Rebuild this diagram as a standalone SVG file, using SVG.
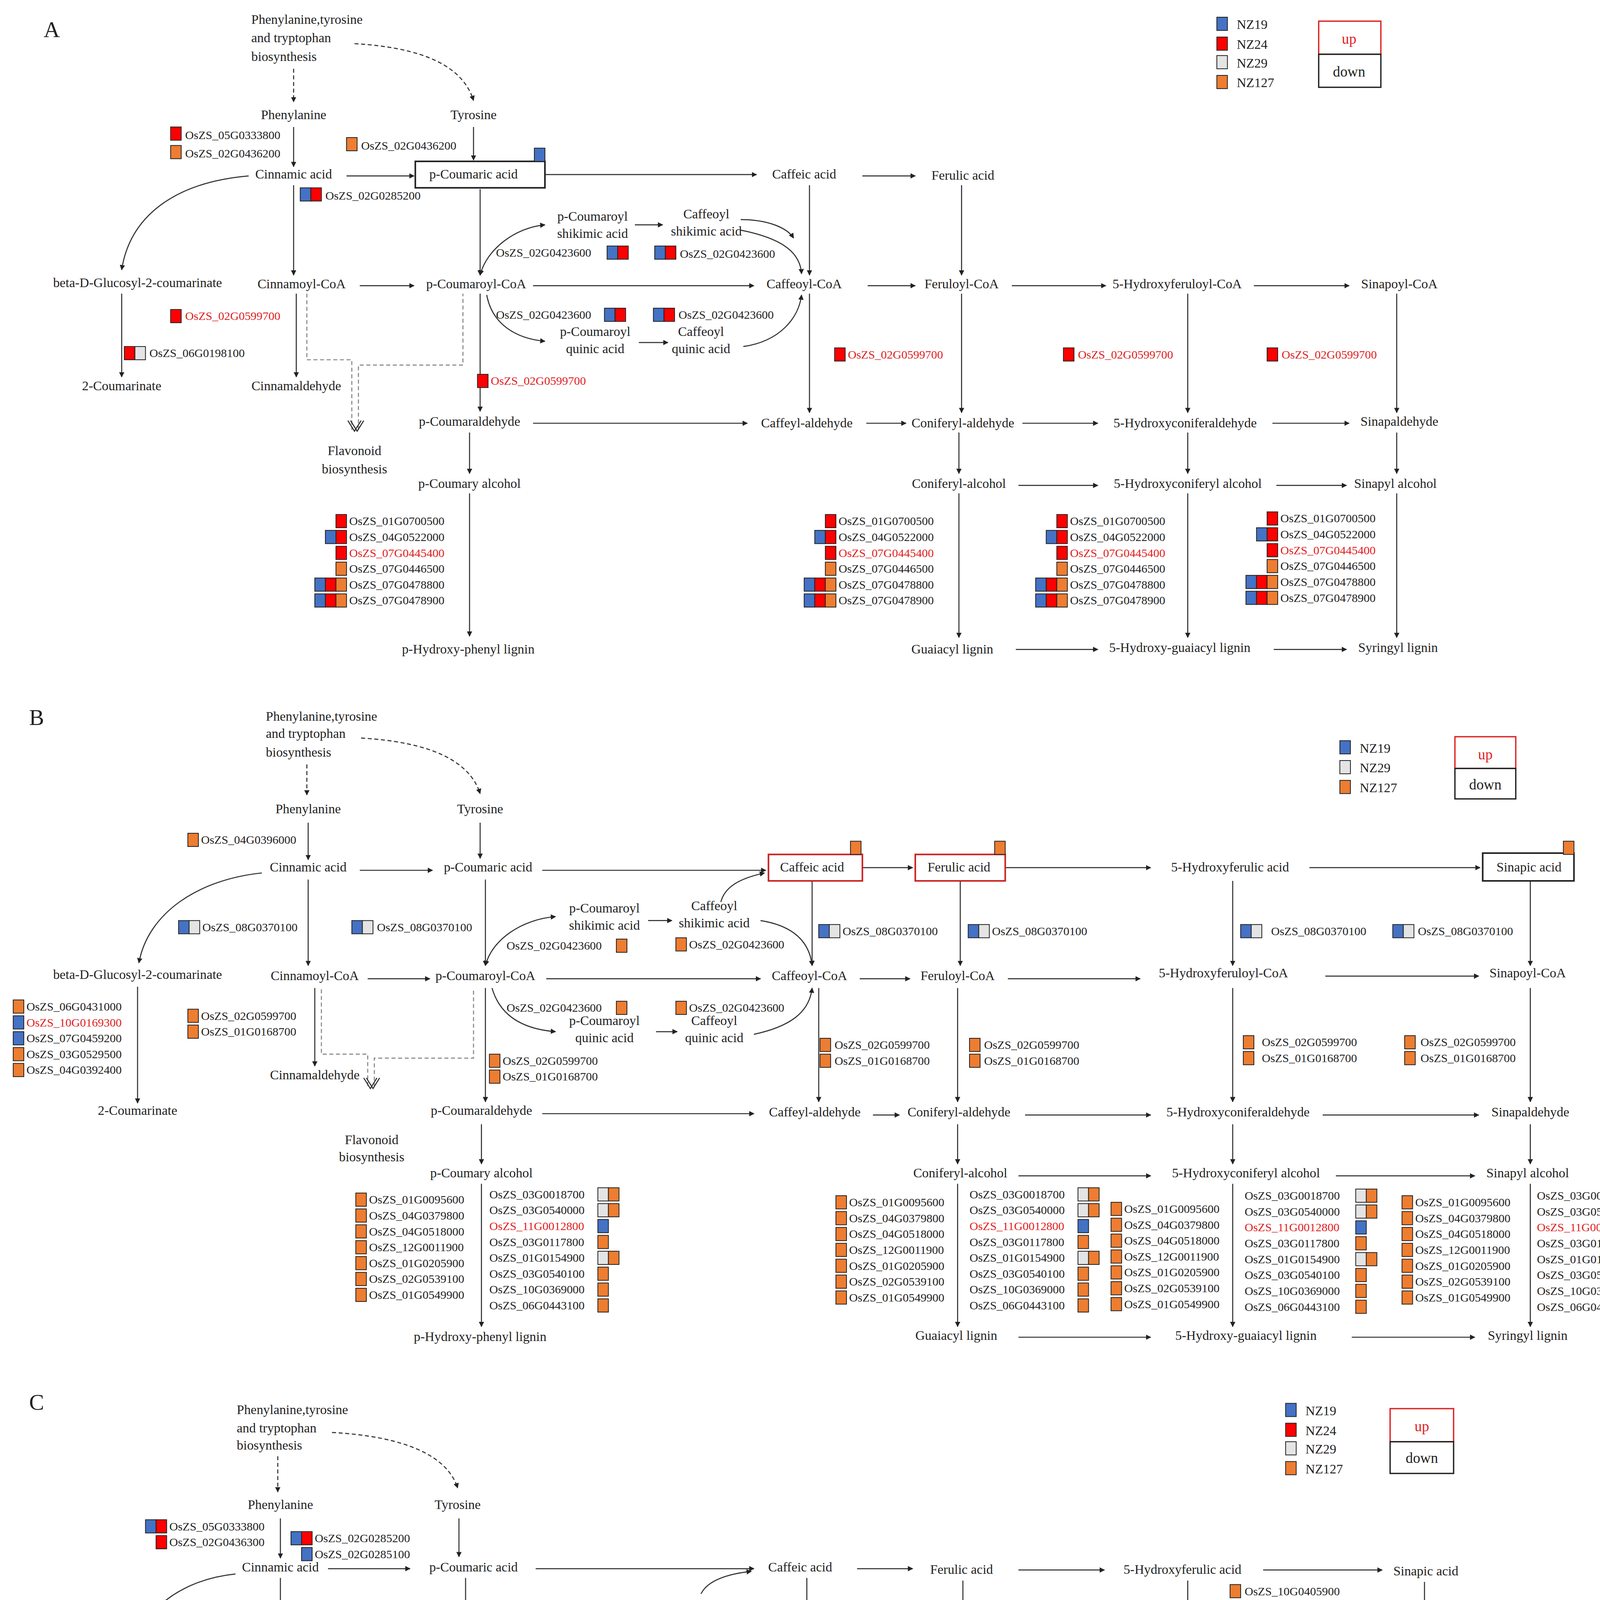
<svg xmlns="http://www.w3.org/2000/svg" xmlns:xlink="http://www.w3.org/1999/xlink" width="4334" height="5328" viewBox="0 0 4334 5328">
<style>
text{font-family:"Liberation Serif","Times New Roman",serif;fill:#222}
.n{font-size:10px;text-anchor:middle}
.g{font-size:9px}
.r{fill:#e02020}
.p{font-size:17px}
.l{fill:none;stroke:#333;stroke-width:0.8}
.a{fill:none;stroke:#333;stroke-width:0.8;marker-end:url(#ah)}
.d{fill:none;stroke:#333;stroke-width:0.8;stroke-dasharray:3 2;marker-end:url(#ah)}
.f{fill:none;stroke:#888;stroke-width:0.8;stroke-dasharray:3 2}
.bx{fill:none;stroke:#222;stroke-width:1.2}
</style>
<defs>
<marker id="ah" viewBox="0 0 10 10" refX="9" refY="5" markerWidth="5" markerHeight="5" orient="auto"><path d="M0,0L10,5L0,10z" fill="#222"/></marker>
<marker id="ah2" viewBox="0 0 10 10" refX="1" refY="5" markerWidth="5" markerHeight="5" orient="auto"><path d="M10,0L0,5L10,10z" fill="#222"/></marker>
<rect id="B" width="8" height="10" fill="#4472C4" stroke="#222" stroke-width="0.6"/>
<rect id="R" width="8" height="10" fill="#FF0000" stroke="#222" stroke-width="0.6"/>
<rect id="G" width="8" height="10" fill="#E4E4E4" stroke="#222" stroke-width="0.6"/>
<rect id="O" width="8" height="10" fill="#ED7D31" stroke="#222" stroke-width="0.6"/>
</defs>
<rect width="4334" height="5328" fill="#fff"/>
<g transform="scale(3.386)">

<!-- ================= PANEL A ================= -->
<g id="panelA">
<text x="33" y="28" class="p">A</text>
<g id="a-legend">
<use href="#B" x="920" y="13"/><text x="935" y="22" class="g" style="font-size:10px">NZ19</text>
<use href="#R" x="920" y="28"/><text x="935" y="37" class="g" style="font-size:10px">NZ24</text>
<use href="#G" x="920" y="42"/><text x="935" y="51" class="g" style="font-size:10px">NZ29</text>
<use href="#O" x="920" y="57"/><text x="935" y="66" class="g" style="font-size:10px">NZ127</text>
<rect x="997" y="16" width="47" height="25" fill="none" stroke="#d22" stroke-width="1"/>
<rect x="997" y="41" width="47" height="25" fill="none" stroke="#222" stroke-width="1"/>
<text x="1020" y="33" class="n r" style="font-size:11px">up</text>
<text x="1020" y="58" class="n" style="font-size:11px">down</text>
</g>
<g id="a-connectors">
<path class="d" d="M222,52V77"/>
<path class="d" d="M268,33C320,36 350,50 358,76"/>
<path class="a" d="M222,96V126"/>
<path class="a" d="M358,96V121"/>
<path class="a" d="M262,133H313"/>
<path class="a" d="M412,132H572"/>
<path class="a" d="M652,133H692"/>
<path class="a" d="M188,133C130,138 98,165 92,204"/>
<path class="a" d="M222,140V208"/>
<path class="a" d="M363,143V208"/>
<path class="a" d="M272,216H313"/>
<path class="l" d="M363,208C368,188 390,172 412,170" marker-end="url(#ah)" marker-start="url(#ah2)"/>
<path class="a" d="M480,170H501"/>
<path class="a" d="M560,174C590,180 605,190 606,207"/>
<path class="a" d="M560,166C580,166 595,172 600,180"/>
<path class="a" d="M612,140V208"/>
<path class="a" d="M727,140V208"/>
<path class="a" d="M403,216H570"/>
<path class="a" d="M656,216H692"/>
<path class="a" d="M765,216H836"/>
<path class="a" d="M948,216H1020"/>
<path class="a" d="M368,223C372,245 390,256 412,258"/>
<path class="a" d="M483,259H505"/>
<path class="a" d="M562,262C590,258 604,240 606,223"/>
<path class="a" d="M92,222V285"/>
<path class="a" d="M224,222V285"/>
<path class="f" d="M232,222V272H266V325M271,325V276H350V222"/>
<path class="l" d="M263,318L268,326L273,318M265,318L270,326L275,318" stroke="#888"/>
<path class="a" d="M363,222V311"/>
<path class="a" d="M612,222V312"/>
<path class="a" d="M727,222V312"/>
<path class="a" d="M898,222V312"/>
<path class="a" d="M1056,222V312"/>
<path class="a" d="M403,320H565"/>
<path class="a" d="M655,320H685"/>
<path class="a" d="M773,320H830"/>
<path class="a" d="M962,320H1020"/>
<path class="a" d="M355,327V358"/>
<path class="a" d="M725,327V358"/>
<path class="a" d="M898,327V358"/>
<path class="a" d="M1056,327V358"/>
<path class="a" d="M770,367H830"/>
<path class="a" d="M965,367H1018"/>
<path class="a" d="M355,373V481"/>
<path class="a" d="M725,373V482"/>
<path class="a" d="M898,373V482"/>
<path class="a" d="M1056,373V482"/>
<path class="a" d="M768,491H830"/>
<path class="a" d="M963,491H1018"/>
</g>
<g id="a-nodes">
<text x="190" y="18" class="g" style="font-size:10px">Phenylanine,tyrosine</text>
<text x="190" y="32" class="g" style="font-size:10px">and tryptophan</text>
<text x="190" y="46" class="g" style="font-size:10px">biosynthesis</text>
<text x="222" y="90" class="n">Phenylanine</text>
<text x="358" y="90" class="n">Tyrosine</text>
<text x="222" y="135" class="n">Cinnamic acid</text>
<rect x="314" y="122" width="98" height="20" class="bx"/><use href="#B" x="404" y="112"/>
<text x="358" y="135" class="n">p-Coumaric acid</text>
<text x="608" y="135" class="n">Caffeic acid</text>
<text x="728" y="136" class="n">Ferulic acid</text>
<text x="448" y="167" class="n">p-Coumaroyl</text><text x="448" y="180" class="n">shikimic acid</text>
<text x="534" y="165" class="n">Caffeoyl</text><text x="534" y="178" class="n">shikimic acid</text>
<text x="104" y="217" class="n">beta-D-Glucosyl-2-coumarinate</text>
<text x="228" y="218" class="n">Cinnamoyl-CoA</text>
<text x="360" y="218" class="n">p-Coumaroyl-CoA</text>
<text x="608" y="218" class="n">Caffeoyl-CoA</text>
<text x="727" y="218" class="n">Feruloyl-CoA</text>
<text x="890" y="218" class="n">5-Hydroxyferuloyl-CoA</text>
<text x="1058" y="218" class="n">Sinapoyl-CoA</text>
<text x="450" y="254" class="n">p-Coumaroyl</text><text x="450" y="267" class="n">quinic acid</text>
<text x="530" y="254" class="n">Caffeoyl</text><text x="530" y="267" class="n">quinic acid</text>
<text x="92" y="295" class="n">2-Coumarinate</text>
<text x="224" y="295" class="n">Cinnamaldehyde</text>
<text x="268" y="344" class="n">Flavonoid</text><text x="268" y="358" class="n">biosynthesis</text>
<text x="355" y="322" class="n">p-Coumaraldehyde</text>
<text x="610" y="323" class="n">Caffeyl-aldehyde</text>
<text x="728" y="323" class="n">Coniferyl-aldehyde</text>
<text x="896" y="323" class="n">5-Hydroxyconiferaldehyde</text>
<text x="1058" y="322" class="n">Sinapaldehyde</text>
<text x="355" y="369" class="n">p-Coumary alcohol</text>
<text x="725" y="369" class="n">Coniferyl-alcohol</text>
<text x="898" y="369" class="n">5-Hydroxyconiferyl alcohol</text>
<text x="1055" y="369" class="n">Sinapyl alcohol</text>
<text x="354" y="494" class="n">p-Hydroxy-phenyl lignin</text>
<text x="720" y="494" class="n">Guaiacyl lignin</text>
<text x="892" y="493" class="n">5-Hydroxy-guaiacyl lignin</text>
<text x="1057" y="493" class="n">Syringyl lignin</text>
</g>
<g id="a-genes">
<use href="#R" x="129" y="96"/><text x="140" y="105" class="g">OsZS_05G0333800</text>
<use href="#O" x="129" y="110"/><text x="140" y="119" class="g">OsZS_02G0436200</text>
<use href="#O" x="262" y="104"/><text x="273" y="113" class="g">OsZS_02G0436200</text>
<use href="#B" x="227" y="142"/><use href="#R" x="235" y="142"/><text x="246" y="151" class="g">OsZS_02G0285200</text>
<text x="375" y="194" class="g">OsZS_02G0423600</text><use href="#B" x="459" y="186"/><use href="#R" x="467" y="186"/>
<use href="#B" x="495" y="186"/><use href="#R" x="503" y="186"/><text x="514" y="195" class="g">OsZS_02G0423600</text>
<text x="375" y="241" class="g">OsZS_02G0423600</text><use href="#B" x="457" y="233"/><use href="#R" x="465" y="233"/>
<use href="#B" x="494" y="233"/><use href="#R" x="502" y="233"/><text x="513" y="241" class="g">OsZS_02G0423600</text>
<use href="#R" x="129" y="234"/><text x="140" y="242" class="g r">OsZS_02G0599700</text>
<use href="#R" x="94" y="262"/><use href="#G" x="102" y="262"/><text x="113" y="270" class="g">OsZS_06G0198100</text>
<use href="#R" x="361" y="283"/><text x="371" y="291" class="g r">OsZS_02G0599700</text>
<use href="#R" x="631" y="263"/><text x="641" y="271" class="g r">OsZS_02G0599700</text>
<use href="#R" x="804" y="263"/><text x="815" y="271" class="g r">OsZS_02G0599700</text>
<use href="#R" x="958" y="263"/><text x="969" y="271" class="g r">OsZS_02G0599700</text>
</g>
<g id="a-lists">
<g transform="translate(264,0)">
<use href="#R" x="-10" y="389"/><text x="0" y="397" class="g">OsZS_01G0700500</text>
<use href="#B" x="-18" y="401"/><use href="#R" x="-10" y="401"/><text x="0" y="409" class="g">OsZS_04G0522000</text>
<use href="#R" x="-10" y="413"/><text x="0" y="421" class="g r">OsZS_07G0445400</text>
<use href="#O" x="-10" y="425"/><text x="0" y="433" class="g">OsZS_07G0446500</text>
<use href="#B" x="-26" y="437"/><use href="#R" x="-18" y="437"/><use href="#O" x="-10" y="437"/><text x="0" y="445" class="g">OsZS_07G0478800</text>
<use href="#B" x="-26" y="449"/><use href="#R" x="-18" y="449"/><use href="#O" x="-10" y="449"/><text x="0" y="457" class="g">OsZS_07G0478900</text>
</g>
<g transform="translate(634,0)">
<use href="#R" x="-10" y="389"/><text x="0" y="397" class="g">OsZS_01G0700500</text>
<use href="#B" x="-18" y="401"/><use href="#R" x="-10" y="401"/><text x="0" y="409" class="g">OsZS_04G0522000</text>
<use href="#R" x="-10" y="413"/><text x="0" y="421" class="g r">OsZS_07G0445400</text>
<use href="#O" x="-10" y="425"/><text x="0" y="433" class="g">OsZS_07G0446500</text>
<use href="#B" x="-26" y="437"/><use href="#R" x="-18" y="437"/><use href="#O" x="-10" y="437"/><text x="0" y="445" class="g">OsZS_07G0478800</text>
<use href="#B" x="-26" y="449"/><use href="#R" x="-18" y="449"/><use href="#O" x="-10" y="449"/><text x="0" y="457" class="g">OsZS_07G0478900</text>
</g>
<g transform="translate(809,0)">
<use href="#R" x="-10" y="389"/><text x="0" y="397" class="g">OsZS_01G0700500</text>
<use href="#B" x="-18" y="401"/><use href="#R" x="-10" y="401"/><text x="0" y="409" class="g">OsZS_04G0522000</text>
<use href="#R" x="-10" y="413"/><text x="0" y="421" class="g r">OsZS_07G0445400</text>
<use href="#O" x="-10" y="425"/><text x="0" y="433" class="g">OsZS_07G0446500</text>
<use href="#B" x="-26" y="437"/><use href="#R" x="-18" y="437"/><use href="#O" x="-10" y="437"/><text x="0" y="445" class="g">OsZS_07G0478800</text>
<use href="#B" x="-26" y="449"/><use href="#R" x="-18" y="449"/><use href="#O" x="-10" y="449"/><text x="0" y="457" class="g">OsZS_07G0478900</text>
</g>
<g transform="translate(968,0)">
<use href="#R" x="-10" y="387"/><text x="0" y="395" class="g">OsZS_01G0700500</text>
<use href="#B" x="-18" y="399"/><use href="#R" x="-10" y="399"/><text x="0" y="407" class="g">OsZS_04G0522000</text>
<use href="#R" x="-10" y="411"/><text x="0" y="419" class="g r">OsZS_07G0445400</text>
<use href="#O" x="-10" y="423"/><text x="0" y="431" class="g">OsZS_07G0446500</text>
<use href="#B" x="-26" y="435"/><use href="#R" x="-18" y="435"/><use href="#O" x="-10" y="435"/><text x="0" y="443" class="g">OsZS_07G0478800</text>
<use href="#B" x="-26" y="447"/><use href="#R" x="-18" y="447"/><use href="#O" x="-10" y="447"/><text x="0" y="455" class="g">OsZS_07G0478900</text>
</g>
</g>
</g>

<!-- ================= PANEL B ================= -->
<g id="panelB">
<text x="22" y="548" class="p">B</text>
<g id="b-legend">
<use href="#B" x="1013" y="560"/><text x="1028" y="569" class="g" style="font-size:10px">NZ19</text>
<use href="#G" x="1013" y="575"/><text x="1028" y="584" class="g" style="font-size:10px">NZ29</text>
<use href="#O" x="1013" y="590"/><text x="1028" y="599" class="g" style="font-size:10px">NZ127</text>
<rect x="1100" y="557" width="46" height="24" fill="none" stroke="#d22" stroke-width="1"/>
<rect x="1100" y="581" width="46" height="23" fill="none" stroke="#222" stroke-width="1"/>
<text x="1123" y="574" class="n r" style="font-size:11px">up</text>
<text x="1123" y="597" class="n" style="font-size:11px">down</text>
</g>
<g id="b-connectors">
<path class="d" d="M232,578V601"/>
<path class="d" d="M273,558C325,561 355,575 363,600"/>
<path class="a" d="M233,622V650"/>
<path class="a" d="M363,622V649"/>
<path class="a" d="M272,658H327"/>
<path class="a" d="M410,658H579"/>
<path class="a" d="M652,656H690"/>
<path class="a" d="M760,656H870"/>
<path class="a" d="M990,656H1119"/>
<path class="a" d="M198,660C150,665 112,690 105,728"/>
<path class="a" d="M233,665V730"/>
<path class="a" d="M367,665V730"/>
<path class="l" d="M367,730C372,710 395,695 420,693" marker-end="url(#ah)" marker-start="url(#ah2)"/>
<path class="a" d="M490,696H508"/>
<path class="a" d="M545,682C548,670 560,664 578,660"/>
<path class="a" d="M575,696C600,700 612,712 614,730"/>
<path class="a" d="M614,666V730"/>
<path class="a" d="M726,666V730"/>
<path class="a" d="M932,666V730"/>
<path class="a" d="M1157,666V730"/>
<path class="a" d="M278,740H325"/>
<path class="a" d="M413,740H575"/>
<path class="a" d="M650,740H688"/>
<path class="a" d="M762,740H862"/>
<path class="a" d="M1002,738H1118"/>
<path class="a" d="M372,747C378,768 395,778 420,780"/>
<path class="a" d="M496,780H512"/>
<path class="a" d="M570,782C598,776 612,765 614,747"/>
<path class="a" d="M104,746V834"/>
<path class="a" d="M238,747V806"/>
<path class="f" d="M243,748V797H278V822M283,822V800H358V748"/>
<path class="l" d="M275,815L280,823L285,815M277,815L282,823L287,815" stroke="#888"/>
<path class="a" d="M367,747V833"/>
<path class="a" d="M619,747V833"/>
<path class="a" d="M724,747V833"/>
<path class="a" d="M932,747V833"/>
<path class="a" d="M1157,747V833"/>
<path class="a" d="M410,842H570"/>
<path class="a" d="M660,843H680"/>
<path class="a" d="M775,843H870"/>
<path class="a" d="M1000,843H1118"/>
<path class="a" d="M364,850V880"/>
<path class="a" d="M724,850V880"/>
<path class="a" d="M932,850V880"/>
<path class="a" d="M1157,850V880"/>
<path class="a" d="M770,889H870"/>
<path class="a" d="M1010,889H1115"/>
<path class="a" d="M364,895V1003"/>
<path class="a" d="M724,895V1003"/>
<path class="a" d="M932,895V1003"/>
<path class="a" d="M1157,895V1003"/>
<path class="a" d="M770,1011H870"/>
<path class="a" d="M1022,1011H1115"/>
</g>
<g id="b-nodes">
<text x="201" y="545" class="g" style="font-size:10px">Phenylanine,tyrosine</text>
<text x="201" y="558" class="g" style="font-size:10px">and tryptophan</text>
<text x="201" y="572" class="g" style="font-size:10px">biosynthesis</text>
<text x="233" y="615" class="n">Phenylanine</text>
<text x="363" y="615" class="n">Tyrosine</text>
<text x="233" y="659" class="n">Cinnamic acid</text>
<text x="369" y="659" class="n">p-Coumaric acid</text>
<rect x="581" y="646" width="71" height="20" fill="none" stroke="#c22" stroke-width="1.2"/><use href="#O" x="643" y="636"/>
<text x="614" y="659" class="n">Caffeic acid</text>
<rect x="692" y="646" width="68" height="20" fill="none" stroke="#c22" stroke-width="1.2"/><use href="#O" x="752" y="636"/>
<text x="725" y="659" class="n">Ferulic acid</text>
<text x="930" y="659" class="n">5-Hydroxyferulic acid</text>
<rect x="1121" y="645" width="69" height="21" class="bx"/><use href="#O" x="1182" y="636"/>
<text x="1156" y="659" class="n">Sinapic acid</text>
<text x="457" y="690" class="n">p-Coumaroyl</text><text x="457" y="703" class="n">shikimic acid</text>
<text x="540" y="688" class="n">Caffeoyl</text><text x="540" y="701" class="n">shikimic acid</text>
<text x="104" y="740" class="n">beta-D-Glucosyl-2-coumarinate</text>
<text x="238" y="741" class="n">Cinnamoyl-CoA</text>
<text x="367" y="741" class="n">p-Coumaroyl-CoA</text>
<text x="612" y="741" class="n">Caffeoyl-CoA</text>
<text x="724" y="741" class="n">Feruloyl-CoA</text>
<text x="925" y="739" class="n">5-Hydroxyferuloyl-CoA</text>
<text x="1155" y="739" class="n">Sinapoyl-CoA</text>
<text x="457" y="775" class="n">p-Coumaroyl</text><text x="457" y="788" class="n">quinic acid</text>
<text x="540" y="775" class="n">Caffeoyl</text><text x="540" y="788" class="n">quinic acid</text>
<text x="104" y="843" class="n">2-Coumarinate</text>
<text x="238" y="816" class="n">Cinnamaldehyde</text>
<text x="281" y="865" class="n">Flavonoid</text><text x="281" y="878" class="n">biosynthesis</text>
<text x="364" y="843" class="n">p-Coumaraldehyde</text>
<text x="616" y="844" class="n">Caffeyl-aldehyde</text>
<text x="725" y="844" class="n">Coniferyl-aldehyde</text>
<text x="936" y="844" class="n">5-Hydroxyconiferaldehyde</text>
<text x="1157" y="844" class="n">Sinapaldehyde</text>
<text x="364" y="890" class="n">p-Coumary alcohol</text>
<text x="726" y="890" class="n">Coniferyl-alcohol</text>
<text x="942" y="890" class="n">5-Hydroxyconiferyl alcohol</text>
<text x="1155" y="890" class="n">Sinapyl alcohol</text>
<text x="363" y="1014" class="n">p-Hydroxy-phenyl lignin</text>
<text x="723" y="1013" class="n">Guaiacyl lignin</text>
<text x="942" y="1013" class="n">5-Hydroxy-guaiacyl lignin</text>
<text x="1155" y="1013" class="n">Syringyl lignin</text>
</g>
<g id="b-genes">
<use href="#O" x="142" y="630"/><text x="152" y="638" class="g">OsZS_04G0396000</text>
<use href="#B" x="135" y="696"/><use href="#G" x="143" y="696"/><text x="153" y="704" class="g">OsZS_08G0370100</text>
<use href="#B" x="266" y="696"/><use href="#G" x="274" y="696"/><text x="285" y="704" class="g">OsZS_08G0370100</text>
<text x="383" y="718" class="g">OsZS_02G0423600</text><use href="#O" x="466" y="710"/>
<use href="#O" x="511" y="709"/><text x="521" y="717" class="g">OsZS_02G0423600</text>
<use href="#B" x="619" y="699"/><use href="#G" x="627" y="699"/><text x="637" y="707" class="g">OsZS_08G0370100</text>
<use href="#B" x="732" y="699"/><use href="#G" x="740" y="699"/><text x="750" y="707" class="g">OsZS_08G0370100</text>
<use href="#B" x="938" y="699"/><use href="#G" x="946" y="699"/><text x="961" y="707" class="g">OsZS_08G0370100</text>
<use href="#B" x="1053" y="699"/><use href="#G" x="1061" y="699"/><text x="1072" y="707" class="g">OsZS_08G0370100</text>
<use href="#O" x="10" y="756"/><text x="20" y="764" class="g">OsZS_06G0431000</text>
<use href="#B" x="10" y="768"/><text x="20" y="776" class="g r">OsZS_10G0169300</text>
<use href="#B" x="10" y="780"/><text x="20" y="788" class="g">OsZS_07G0459200</text>
<use href="#O" x="10" y="792"/><text x="20" y="800" class="g">OsZS_03G0529500</text>
<use href="#O" x="10" y="804"/><text x="20" y="812" class="g">OsZS_04G0392400</text>
<use href="#O" x="142" y="763"/><text x="152" y="771" class="g">OsZS_02G0599700</text>
<use href="#O" x="142" y="775"/><text x="152" y="783" class="g">OsZS_01G0168700</text>
<text x="383" y="765" class="g">OsZS_02G0423600</text><use href="#O" x="466" y="757"/>
<use href="#O" x="511" y="757"/><text x="521" y="765" class="g">OsZS_02G0423600</text>
<use href="#O" x="370" y="797"/><text x="380" y="805" class="g">OsZS_02G0599700</text>
<use href="#O" x="370" y="809"/><text x="380" y="817" class="g">OsZS_01G0168700</text>
<use href="#O" x="620" y="785"/><text x="631" y="793" class="g">OsZS_02G0599700</text>
<use href="#O" x="620" y="797"/><text x="631" y="805" class="g">OsZS_01G0168700</text>
<use href="#O" x="733" y="785"/><text x="744" y="793" class="g">OsZS_02G0599700</text>
<use href="#O" x="733" y="797"/><text x="744" y="805" class="g">OsZS_01G0168700</text>
<use href="#O" x="940" y="783"/><text x="954" y="791" class="g">OsZS_02G0599700</text>
<use href="#O" x="940" y="795"/><text x="954" y="803" class="g">OsZS_01G0168700</text>
<use href="#O" x="1062" y="783"/><text x="1074" y="791" class="g">OsZS_02G0599700</text>
<use href="#O" x="1062" y="795"/><text x="1074" y="803" class="g">OsZS_01G0168700</text>
</g>
<g id="b-lists">
<g transform="translate(279,910)">
<use href="#O" x="-10" y="-8"/><text x="0" y="0" class="g">OsZS_01G0095600</text>
<use href="#O" x="-10" y="4"/><text x="0" y="12" class="g">OsZS_04G0379800</text>
<use href="#O" x="-10" y="16"/><text x="0" y="24" class="g">OsZS_04G0518000</text>
<use href="#O" x="-10" y="28"/><text x="0" y="36" class="g">OsZS_12G0011900</text>
<use href="#O" x="-10" y="40"/><text x="0" y="48" class="g">OsZS_01G0205900</text>
<use href="#O" x="-10" y="52"/><text x="0" y="60" class="g">OsZS_02G0539100</text>
<use href="#O" x="-10" y="64"/><text x="0" y="72" class="g">OsZS_01G0549900</text>
</g>
<g transform="translate(370,906)">
<text x="0" y="0" class="g">OsZS_03G0018700</text><use href="#G" x="82" y="-8"/><use href="#O" x="90" y="-8"/>
<text x="0" y="12" class="g">OsZS_03G0540000</text><use href="#G" x="82" y="4"/><use href="#O" x="90" y="4"/>
<text x="0" y="24" class="g r">OsZS_11G0012800</text><use href="#B" x="82" y="16"/>
<text x="0" y="36" class="g">OsZS_03G0117800</text><use href="#O" x="82" y="28"/>
<text x="0" y="48" class="g">OsZS_01G0154900</text><use href="#G" x="82" y="40"/><use href="#O" x="90" y="40"/>
<text x="0" y="60" class="g">OsZS_03G0540100</text><use href="#O" x="82" y="52"/>
<text x="0" y="72" class="g">OsZS_10G0369000</text><use href="#O" x="82" y="64"/>
<text x="0" y="84" class="g">OsZS_06G0443100</text><use href="#O" x="82" y="76"/>
</g>
<g transform="translate(642,912)">
<use href="#O" x="-10" y="-8"/><text x="0" y="0" class="g">OsZS_01G0095600</text>
<use href="#O" x="-10" y="4"/><text x="0" y="12" class="g">OsZS_04G0379800</text>
<use href="#O" x="-10" y="16"/><text x="0" y="24" class="g">OsZS_04G0518000</text>
<use href="#O" x="-10" y="28"/><text x="0" y="36" class="g">OsZS_12G0011900</text>
<use href="#O" x="-10" y="40"/><text x="0" y="48" class="g">OsZS_01G0205900</text>
<use href="#O" x="-10" y="52"/><text x="0" y="60" class="g">OsZS_02G0539100</text>
<use href="#O" x="-10" y="64"/><text x="0" y="72" class="g">OsZS_01G0549900</text>
</g>
<g transform="translate(733,906)">
<text x="0" y="0" class="g">OsZS_03G0018700</text><use href="#G" x="82" y="-8"/><use href="#O" x="90" y="-8"/>
<text x="0" y="12" class="g">OsZS_03G0540000</text><use href="#G" x="82" y="4"/><use href="#O" x="90" y="4"/>
<text x="0" y="24" class="g r">OsZS_11G0012800</text><use href="#B" x="82" y="16"/>
<text x="0" y="36" class="g">OsZS_03G0117800</text><use href="#O" x="82" y="28"/>
<text x="0" y="48" class="g">OsZS_01G0154900</text><use href="#G" x="82" y="40"/><use href="#O" x="90" y="40"/>
<text x="0" y="60" class="g">OsZS_03G0540100</text><use href="#O" x="82" y="52"/>
<text x="0" y="72" class="g">OsZS_10G0369000</text><use href="#O" x="82" y="64"/>
<text x="0" y="84" class="g">OsZS_06G0443100</text><use href="#O" x="82" y="76"/>
</g>
<g transform="translate(850,917)">
<use href="#O" x="-10" y="-8"/><text x="0" y="0" class="g">OsZS_01G0095600</text>
<use href="#O" x="-10" y="4"/><text x="0" y="12" class="g">OsZS_04G0379800</text>
<use href="#O" x="-10" y="16"/><text x="0" y="24" class="g">OsZS_04G0518000</text>
<use href="#O" x="-10" y="28"/><text x="0" y="36" class="g">OsZS_12G0011900</text>
<use href="#O" x="-10" y="40"/><text x="0" y="48" class="g">OsZS_01G0205900</text>
<use href="#O" x="-10" y="52"/><text x="0" y="60" class="g">OsZS_02G0539100</text>
<use href="#O" x="-10" y="64"/><text x="0" y="72" class="g">OsZS_01G0549900</text>
</g>
<g transform="translate(941,907)">
<text x="0" y="0" class="g">OsZS_03G0018700</text><use href="#G" x="84" y="-8"/><use href="#O" x="92" y="-8"/>
<text x="0" y="12" class="g">OsZS_03G0540000</text><use href="#G" x="84" y="4"/><use href="#O" x="92" y="4"/>
<text x="0" y="24" class="g r">OsZS_11G0012800</text><use href="#B" x="84" y="16"/>
<text x="0" y="36" class="g">OsZS_03G0117800</text><use href="#O" x="84" y="28"/>
<text x="0" y="48" class="g">OsZS_01G0154900</text><use href="#G" x="84" y="40"/><use href="#O" x="92" y="40"/>
<text x="0" y="60" class="g">OsZS_03G0540100</text><use href="#O" x="84" y="52"/>
<text x="0" y="72" class="g">OsZS_10G0369000</text><use href="#O" x="84" y="64"/>
<text x="0" y="84" class="g">OsZS_06G0443100</text><use href="#O" x="84" y="76"/>
</g>
<g transform="translate(1070,912)">
<use href="#O" x="-10" y="-8"/><text x="0" y="0" class="g">OsZS_01G0095600</text>
<use href="#O" x="-10" y="4"/><text x="0" y="12" class="g">OsZS_04G0379800</text>
<use href="#O" x="-10" y="16"/><text x="0" y="24" class="g">OsZS_04G0518000</text>
<use href="#O" x="-10" y="28"/><text x="0" y="36" class="g">OsZS_12G0011900</text>
<use href="#O" x="-10" y="40"/><text x="0" y="48" class="g">OsZS_01G0205900</text>
<use href="#O" x="-10" y="52"/><text x="0" y="60" class="g">OsZS_02G0539100</text>
<use href="#O" x="-10" y="64"/><text x="0" y="72" class="g">OsZS_01G0549900</text>
</g>
<g transform="translate(1162,907)">
<text x="0" y="0" class="g">OsZS_03G0018700</text><use href="#G" x="84" y="-8"/><use href="#O" x="92" y="-8"/>
<text x="0" y="12" class="g">OsZS_03G0540000</text><use href="#G" x="84" y="4"/><use href="#O" x="92" y="4"/>
<text x="0" y="24" class="g r">OsZS_11G0012800</text><use href="#B" x="84" y="16"/>
<text x="0" y="36" class="g">OsZS_03G0117800</text><use href="#O" x="84" y="28"/>
<text x="0" y="48" class="g">OsZS_01G0154900</text><use href="#G" x="84" y="40"/><use href="#O" x="92" y="40"/>
<text x="0" y="60" class="g">OsZS_03G0540100</text><use href="#O" x="84" y="52"/>
<text x="0" y="72" class="g">OsZS_10G0369000</text><use href="#O" x="84" y="64"/>
<text x="0" y="84" class="g">OsZS_06G0443100</text><use href="#O" x="84" y="76"/>
</g>
</g>
</g>

<!-- ================= PANEL C ================= -->
<g id="panelC">
<text x="22" y="1066" class="p">C</text>
<g id="c-legend">
<use href="#B" x="972" y="1061"/><text x="987" y="1070" class="g" style="font-size:10px">NZ19</text>
<use href="#R" x="972" y="1076"/><text x="987" y="1085" class="g" style="font-size:10px">NZ24</text>
<use href="#G" x="972" y="1090"/><text x="987" y="1099" class="g" style="font-size:10px">NZ29</text>
<use href="#O" x="972" y="1105"/><text x="987" y="1114" class="g" style="font-size:10px">NZ127</text>
<rect x="1051" y="1065" width="48" height="25" fill="none" stroke="#d22" stroke-width="1"/>
<rect x="1051" y="1090" width="48" height="24" fill="none" stroke="#222" stroke-width="1"/>
<text x="1075" y="1082" class="n r" style="font-size:11px">up</text>
<text x="1075" y="1106" class="n" style="font-size:11px">down</text>
</g>
<g id="c-connectors">
<path class="d" d="M210,1101V1128"/>
<path class="d" d="M251,1083C305,1086 338,1100 346,1125"/>
<path class="a" d="M212,1148V1178"/>
<path class="a" d="M347,1148V1177"/>
<path class="a" d="M248,1186H310"/>
<path class="a" d="M405,1186H570"/>
<path class="a" d="M648,1186H690"/>
<path class="a" d="M770,1187H835"/>
<path class="a" d="M955,1187H1045"/>
<path class="a" d="M178,1190C130,1195 100,1225 96,1262"/>
<path class="a" d="M212,1193V1262"/>
<path class="a" d="M352,1193V1262"/>
<path class="a" d="M353,1262C358,1240 380,1222 405,1220"/>
<path class="a" d="M473,1225H497"/>
<path class="a" d="M530,1205C535,1195 550,1190 568,1188"/>
<path class="a" d="M560,1225C590,1230 606,1245 608,1262"/>
<path class="a" d="M610,1193V1262"/>
<path class="a" d="M728,1195V1262"/>
<path class="a" d="M898,1195V1262"/>
<path class="a" d="M1077,1196V1262"/>
<path class="a" d="M258,1270H307"/>
<path class="a" d="M398,1270H563"/>
<path class="a" d="M645,1270H690"/>
<path class="a" d="M775,1270H829"/>
<path class="a" d="M963,1270H1040"/>
<path class="a" d="M355,1277C360,1298 380,1310 405,1312"/>
<path class="a" d="M483,1312H500"/>
<path class="a" d="M558,1315C590,1310 605,1295 607,1277"/>
<path class="a" d="M79,1277V1350"/>
<path class="a" d="M212,1277V1340"/>
<path class="f" d="M221,1278V1333H255V1385M263,1385V1333H344V1278"/>
<path class="l" d="M252,1378L257,1386L262,1378M255,1378L260,1386L265,1378" stroke="#888"/>
<path class="a" d="M350,1277V1370"/>
<path class="a" d="M610,1277V1370"/>
<path class="a" d="M733,1277V1370"/>
<path class="a" d="M898,1277V1370"/>
<path class="a" d="M1077,1277V1370"/>
<path class="a" d="M395,1379H560"/>
<path class="a" d="M655,1378H675"/>
<path class="a" d="M773,1378H830"/>
<path class="a" d="M965,1378H1040"/>
<path class="a" d="M350,1385V1418"/>
<path class="a" d="M724,1385V1418"/>
<path class="a" d="M898,1385V1418"/>
<path class="a" d="M1075,1385V1418"/>
<path class="a" d="M770,1426H830"/>
<path class="a" d="M968,1426H1030"/>
<path class="a" d="M350,1432V1545"/>
<path class="a" d="M724,1432V1545"/>
<path class="a" d="M898,1432V1545"/>
<path class="a" d="M1075,1432V1545"/>
<path class="a" d="M766,1553H830"/>
<path class="a" d="M967,1553H1030"/>
</g>
<g id="c-nodes">
<text x="179" y="1069" class="g" style="font-size:10px">Phenylanine,tyrosine</text>
<text x="179" y="1083" class="g" style="font-size:10px">and tryptophan</text>
<text x="179" y="1096" class="g" style="font-size:10px">biosynthesis</text>
<text x="212" y="1141" class="n">Phenylanine</text>
<text x="346" y="1141" class="n">Tyrosine</text>
<text x="212" y="1188" class="n">Cinnamic acid</text>
<text x="358" y="1188" class="n">p-Coumaric acid</text>
<text x="605" y="1188" class="n">Caffeic acid</text>
<text x="727" y="1190" class="n">Ferulic acid</text>
<text x="894" y="1190" class="n">5-Hydroxyferulic acid</text>
<text x="1078" y="1191" class="n">Sinapic acid</text>
<text x="442" y="1221" class="n">p-Coumaroyl</text><text x="442" y="1234" class="n">shikimic acid</text>
<text x="529" y="1218" class="n">Caffeoyl</text><text x="529" y="1231" class="n">shikimic acid</text>
<text x="93" y="1272" class="n">beta-D-Glucosyl-2-coumarinate</text>
<text x="219" y="1272" class="n">Cinnamoyl-CoA</text>
<text x="353" y="1272" class="n">p-Coumaroyl-CoA</text>
<text x="606" y="1272" class="n">Caffeoyl-CoA</text>
<text x="733" y="1272" class="n">Feruloyl-CoA</text>
<text x="889" y="1272" class="n">5-Hydroxyferuloyl-CoA</text>
<text x="1082" y="1272" class="n">Sinapoyl-CoA</text>
<text x="444" y="1309" class="n">p-Coumaroyl</text><text x="444" y="1322" class="n">quinic acid</text>
<text x="525" y="1309" class="n">Caffeoyl</text><text x="525" y="1322" class="n">quinic acid</text>
<text x="79" y="1359" class="n">2-Coumarinate</text>
<text x="214" y="1350" class="n">Cinnamaldehyde</text>
<text x="260" y="1401" class="n">Flavonoid</text><text x="260" y="1415" class="n">biosynthesis</text>
<text x="346" y="1381" class="n">p-Coumaraldehyde</text>
<text x="607" y="1380" class="n">Caffeyl-aldehyde</text>
<text x="724" y="1380" class="n">Coniferyl-aldehyde</text>
<text x="898" y="1380" class="n">5-Hydroxyconiferaldehyde</text>
<text x="1076" y="1380" class="n">Sinapaldehyde</text>
<text x="346" y="1428" class="n">p-Coumary alcohol</text>
<text x="724" y="1428" class="n">Coniferyl-alcohol</text>
<text x="898" y="1428" class="n">5-Hydroxyconiferyl alcohol</text>
<text x="1075" y="1428" class="n">Sinapyl alcohol</text>
<text x="346" y="1557" class="n">p-Hydroxy-phenyl lignin</text>
<text x="720" y="1555" class="n">Guaiacyl lignin</text>
<text x="898" y="1555" class="n">5-Hydroxy-guaiacyl lignin</text>
<text x="1076" y="1555" class="n">Syringyl lignin</text>
</g>
<g id="c-genes">
<use href="#B" x="110" y="1149"/><use href="#R" x="118" y="1149"/><text x="128" y="1157" class="g">OsZS_05G0333800</text>
<use href="#R" x="118" y="1161"/><text x="128" y="1169" class="g">OsZS_02G0436300</text>
<use href="#B" x="220" y="1158"/><use href="#R" x="228" y="1158"/><text x="238" y="1166" class="g">OsZS_02G0285200</text>
<use href="#B" x="228" y="1170"/><text x="238" y="1178" class="g">OsZS_02G0285100</text>
<use href="#O" x="117" y="1215"/><text x="128" y="1223" class="g">OsZS_10G0405900</text>
<use href="#B" x="91" y="1227"/><use href="#R" x="99" y="1227"/><use href="#G" x="107" y="1227"/><use href="#O" x="115" y="1227"/><text x="128" y="1235" class="g">OsZS_08G0370100</text>
<use href="#O" x="253" y="1215"/><text x="264" y="1223" class="g">OsZS_10G0405900</text>
<use href="#B" x="227" y="1227"/><use href="#R" x="235" y="1227"/><use href="#G" x="243" y="1227"/><use href="#O" x="251" y="1227"/><text x="264" y="1235" class="g">OsZS_08G0370100</text>
<text x="237" y="1250" class="g">OsZS_02G0285200</text>
<text x="237" y="1262" class="g">OsZS_02G0285100</text>
<use href="#O" x="614" y="1217"/><text x="626" y="1225" class="g">OsZS_10G0405900</text>
<text x="626" y="1237" class="g">OsZS_08G0370100</text>
<use href="#B" x="614" y="1241"/><use href="#R" x="622" y="1241"/><use href="#G" x="630" y="1241"/><use href="#O" x="638" y="1241"/>
<use href="#O" x="753" y="1213"/><text x="763" y="1221" class="g">OsZS_10G0405900</text>
<use href="#B" x="727" y="1225"/><use href="#R" x="735" y="1225"/><use href="#G" x="743" y="1225"/><use href="#O" x="751" y="1225"/><text x="763" y="1233" class="g">OsZS_08G0370100</text>
<use href="#O" x="930" y="1198"/><text x="941" y="1206" class="g">OsZS_10G0405900</text>
<use href="#B" x="904" y="1210"/><use href="#R" x="912" y="1210"/><use href="#G" x="920" y="1210"/><use href="#O" x="928" y="1210"/><text x="941" y="1218" class="g">OsZS_08G0370100</text>
<use href="#O" x="983" y="1228"/><text x="994" y="1236" class="g">OsZS_10G0405900</text>
<use href="#B" x="957" y="1240"/><use href="#R" x="965" y="1240"/><use href="#G" x="973" y="1240"/><use href="#O" x="981" y="1240"/><text x="994" y="1248" class="g">OsZS_08G0370100</text>
<use href="#B" x="110" y="1282"/><use href="#R" x="118" y="1282"/><text x="128" y="1290" class="g">OsZS_08G0364500</text>
<use href="#O" x="85" y="1307"/><text x="96" y="1315" class="g">OsZS_04G0357800</text>
<use href="#O" x="85" y="1324"/><text x="96" y="1332" class="g">OsZS_06G0198100</text>
<use href="#B" x="622" y="1320"/><use href="#R" x="630" y="1320"/><text x="642" y="1328" class="g">OsZS_08G0364500</text>
<use href="#B" x="795" y="1320"/><use href="#R" x="803" y="1320"/><text x="815" y="1328" class="g">OsZS_08G0364500</text>
<use href="#B" x="972" y="1320"/><use href="#R" x="980" y="1320"/><text x="991" y="1328" class="g">OsZS_08G0364500</text>
<use href="#B" x="352" y="1341"/><use href="#R" x="360" y="1341"/><text x="371" y="1349" class="g">OsZS_08G0364500</text>
<use href="#B" x="505" y="1341"/><use href="#R" x="513" y="1341"/><text x="524" y="1349" class="g">OsZS_08G0364500</text>
</g>
<g id="c-lists">
<g transform="translate(258,1446)">
<use href="#B" x="-26" y="-8"/><use href="#R" x="-18" y="-8"/><use href="#G" x="-10" y="-8"/><text x="0" y="0" class="g">OsZS_04G0552300</text>
<use href="#B" x="-18" y="4"/><use href="#O" x="-10" y="4"/><text x="0" y="12" class="g">OsZS_04G0379800</text>
<use href="#O" x="-10" y="16"/><text x="0" y="24" class="g">OsZS_06G0443100</text>
<use href="#R" x="-10" y="28"/><text x="0" y="36" class="g r">OsZS_07G0445400</text>
<use href="#B" x="-10" y="40"/><text x="0" y="48" class="g r">OsZS_01G0205900</text>
<use href="#B" x="-18" y="52"/><use href="#O" x="-10" y="52"/><text x="0" y="60" class="g">OsZS_07G0478900</text>
<use href="#R" x="-10" y="64"/><text x="0" y="72" class="g">OsZS_01G0446500</text>
<use href="#O" x="-10" y="76"/><text x="0" y="84" class="g">OsZS_04G0522000</text>
</g>
<g transform="translate(634,1446)">
<use href="#B" x="-26" y="-8"/><use href="#R" x="-18" y="-8"/><use href="#G" x="-10" y="-8"/><text x="0" y="0" class="g">OsZS_04G0552300</text>
<use href="#B" x="-18" y="4"/><use href="#O" x="-10" y="4"/><text x="0" y="12" class="g">OsZS_04G0379800</text>
<use href="#O" x="-10" y="16"/><text x="0" y="24" class="g">OsZS_06G0443100</text>
<use href="#R" x="-10" y="28"/><text x="0" y="36" class="g r">OsZS_07G0445400</text>
<use href="#B" x="-10" y="40"/><text x="0" y="48" class="g r">OsZS_01G0205900</text>
<use href="#B" x="-18" y="52"/><use href="#O" x="-10" y="52"/><text x="0" y="60" class="g">OsZS_07G0478900</text>
<use href="#R" x="-10" y="64"/><text x="0" y="72" class="g">OsZS_01G0446500</text>
<use href="#O" x="-10" y="76"/><text x="0" y="84" class="g">OsZS_04G0522000</text>
</g>
<g transform="translate(812,1446)">
<use href="#B" x="-26" y="-8"/><use href="#R" x="-18" y="-8"/><use href="#G" x="-10" y="-8"/><text x="0" y="0" class="g">OsZS_04G0552300</text>
<use href="#B" x="-18" y="4"/><use href="#O" x="-10" y="4"/><text x="0" y="12" class="g">OsZS_04G0379800</text>
<use href="#O" x="-10" y="16"/><text x="0" y="24" class="g">OsZS_06G0443100</text>
<use href="#R" x="-10" y="28"/><text x="0" y="36" class="g r">OsZS_07G0445400</text>
<use href="#B" x="-10" y="40"/><text x="0" y="48" class="g r">OsZS_01G0205900</text>
<use href="#B" x="-18" y="52"/><use href="#O" x="-10" y="52"/><text x="0" y="60" class="g">OsZS_07G0478900</text>
<use href="#R" x="-10" y="64"/><text x="0" y="72" class="g">OsZS_01G0446500</text>
<use href="#O" x="-10" y="76"/><text x="0" y="84" class="g">OsZS_04G0522000</text>
</g>
<g transform="translate(988,1445)">
<use href="#B" x="-26" y="-8"/><use href="#R" x="-18" y="-8"/><use href="#G" x="-10" y="-8"/><text x="0" y="0" class="g">OsZS_04G0552300</text>
<use href="#B" x="-18" y="4"/><use href="#O" x="-10" y="4"/><text x="0" y="12" class="g">OsZS_04G0379800</text>
<use href="#O" x="-10" y="16"/><text x="0" y="24" class="g">OsZS_06G0443100</text>
<use href="#R" x="-10" y="28"/><text x="0" y="36" class="g r">OsZS_07G0445400</text>
<use href="#B" x="-10" y="40"/><text x="0" y="48" class="g r">OsZS_01G0205900</text>
<use href="#B" x="-18" y="52"/><use href="#O" x="-10" y="52"/><text x="0" y="60" class="g">OsZS_07G0478900</text>
<use href="#R" x="-10" y="64"/><text x="0" y="72" class="g">OsZS_01G0446500</text>
<use href="#O" x="-10" y="76"/><text x="0" y="84" class="g">OsZS_04G0522000</text>
</g>
</g>
</g>
</g>
</svg>
